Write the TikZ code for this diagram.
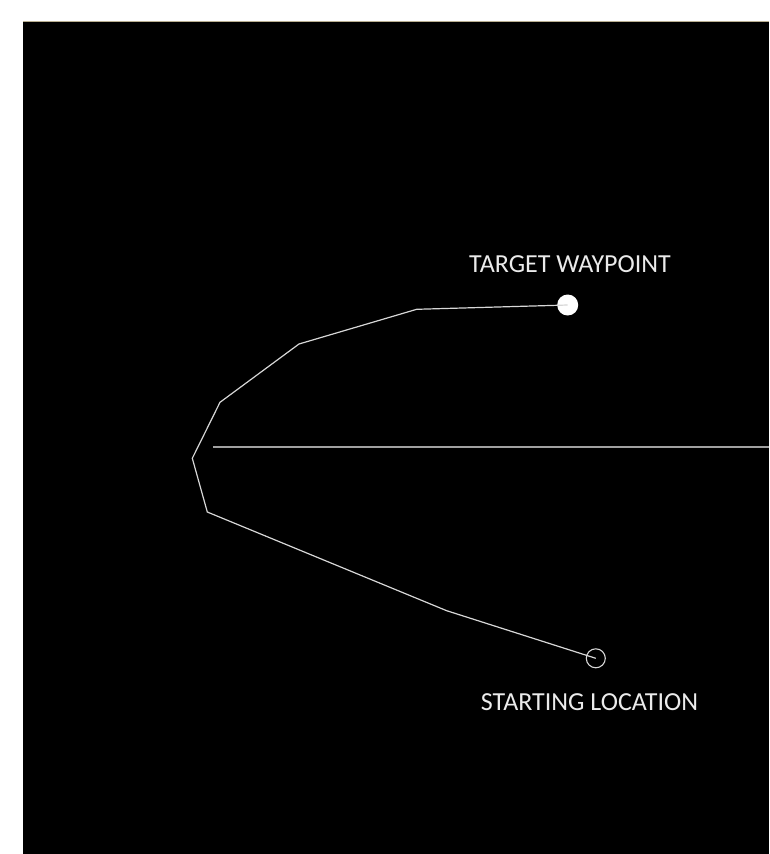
\documentclass[tikz,border=0pt]{standalone}
\usepackage{fontspec}
\setmainfont{Carlito}
\definecolor{pathgray}{RGB}{215,215,215}
\definecolor{axisgray}{RGB}{160,160,160}
\definecolor{txt}{RGB}{235,235,235}
\definecolor{topline}{RGB}{185,175,145}
\begin{document}
\begin{tikzpicture}[x=1pt,y=-1pt,
  label text/.style={anchor=base west, inner sep=0pt, text=txt, font=\fontsize{26pt}{31pt}\selectfont},
  route/.style={draw=pathgray, line width=1.2pt, line join=miter},
  axis/.style={draw=axisgray, line width=2pt}]
\useasboundingbox (0,0) rectangle (769,854);
\fill[white] (0,0) rectangle (769,854);
\fill[black] (23,22) rectangle (769,854);
\draw[topline, line width=1.2pt] (23,21.4) -- (769,21.4);
% waypoints
\node[circle, fill=white, inner sep=0pt, minimum size=21pt] (target) at (567.7,305) {};
\node[circle, draw=pathgray, line width=1.1pt, inner sep=0pt, minimum size=19pt] (start) at (595.8,658.3) {};
\coordinate (p1) at (446.7,610.7);
\coordinate (p2) at (207.3,512);
\coordinate (p3) at (192.3,458.3);
\coordinate (p4) at (220,402.3);
\coordinate (p5) at (299,344);
\coordinate (p6) at (416.7,309.3);
\coordinate (ax0) at (213.3,446.7);
\coordinate (ax1) at (769,446.7);
\draw[axis] (ax0) -- (ax1);
\draw[route] (start.center) -- (p1) -- (p2) -- (p3) -- (p4) -- (p5) -- (p6) -- (target.center);
\node[label text] (tlabel) at (469,272) {TARGET WAYPOINT};
\node[label text] (slabel) at (480.7,710.7) {STARTING LOCATION};
\end{tikzpicture}
\end{document}
